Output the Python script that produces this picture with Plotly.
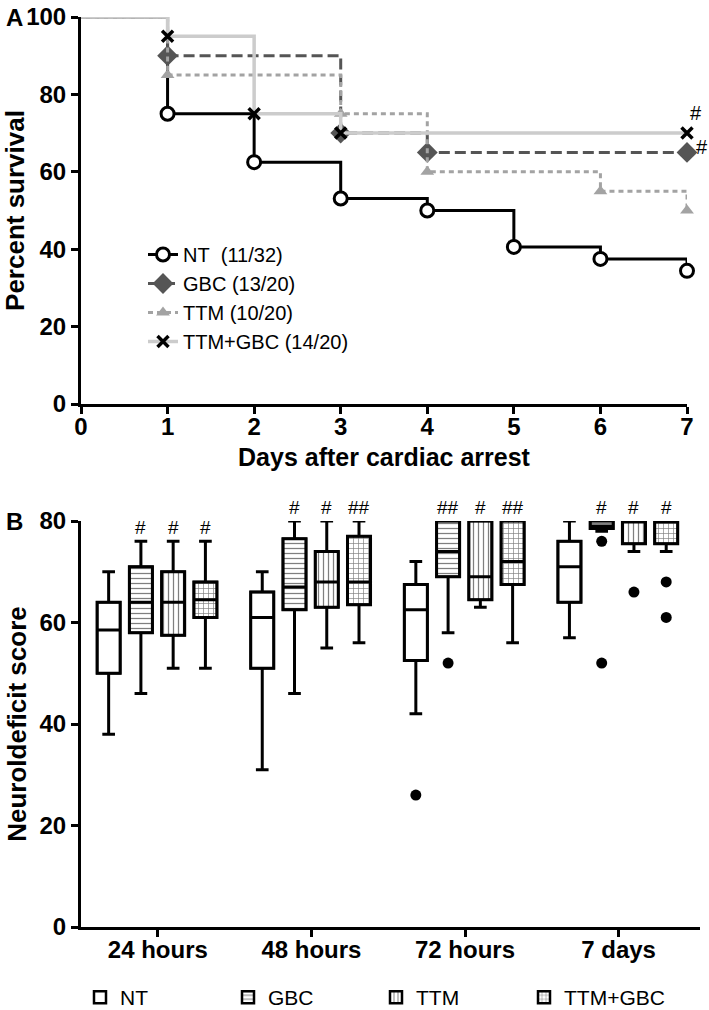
import plotly.graph_objects as go

# ---- Panel A: Kaplan-Meier survival ----
days = [0, 1, 2, 3, 4, 5, 6, 7]
surv_nt = [100, 75, 62.5, 53.1, 50, 40.6, 37.5, 34.4]
surv_gbc = [100, 90, 90, 70, 65, 65, 65, 65]
surv_ttm = [100, 85, 85, 75, 60, 60, 55, 50]
surv_combo = [100, 95, 75, 70, 70, 70, 70, 70]
km_names = ["NT\u00a0\u00a0(11/32)", "GBC (13/20)", "TTM (10/20)", "TTM+GBC (14/20)"]

# ---- Panel B: neurodeficit score box plots ----
time_labels = ["24 hours", "48 hours", "72 hours", "7 days"]
box_names = ["NT", "GBC", "TTM", "TTM+GBC"]

nt_low = [38, 31, 42, 57]
nt_q1 = [50, 51, 52.5, 64]
nt_med = [58.5, 61, 62.5, 71]
nt_q3 = [64, 66, 67.5, 76]
nt_high = [70, 70, 72, 80]

gbc_low = [46, 46, 58, 78]
gbc_q1 = [58, 62.5, 69, 78.5]
gbc_med = [64, 67, 74, 79]
gbc_q3 = [71, 76.5, 80, 80]
gbc_high = [76, 80, 80, 80]

ttm_low = [51, 55, 63, 74]
ttm_q1 = [57.5, 63, 64.5, 75.5]
ttm_med = [64, 68, 69, 80]
ttm_q3 = [70, 74, 80, 80]
ttm_high = [76, 80, 80, 80]

combo_low = [51, 56, 56, 74]
combo_q1 = [61, 63.5, 67.5, 75.5]
combo_med = [64.5, 68, 72, 80]
combo_q3 = [68, 77, 80, 80]
combo_high = [76, 80, 80, 80]

# outliers: (time index, value)
nt_out = [(2, 26)]
gbc_out = [(2, 52), (3, 76), (3, 52)]
ttm_out = [(3, 66)]
combo_out = [(3, 68), (3, 61)]

gbc_sig = ["#", "#", "##", "#"]
ttm_sig = ["#", "#", "#", "#"]
combo_sig = ["#", "##", "##", "#"]
nt_sig = ["", "", "", ""]

FONT = "Liberation Sans, Arial, sans-serif"
W, H = 709, 1010

fig = go.Figure()

km_styles = [
    dict(line=dict(color="black", width=3),
         marker=dict(symbol="circle", size=13, color="white",
                     line=dict(color="black", width=3))),
    dict(line=dict(color="#555555", width=3, dash="11px,5px"),
         marker=dict(symbol="diamond", size=16, color="#555555",
                     line=dict(color="#555555", width=0))),
    dict(line=dict(color="#a3a3a3", width=3, dash="5px,4px"),
         marker=dict(symbol="triangle-up", size=12, color="#a3a3a3",
                     line=dict(color="#a3a3a3", width=0))),
    dict(line=dict(color="#cccccc", width=3.5),
         marker=dict(symbol="x-thin", size=11, color="black",
                     line=dict(color="black", width=3.5))),
]

for name, surv, st in zip(km_names, [surv_nt, surv_gbc, surv_ttm, surv_combo], km_styles):
    # first step (day 0 -> day 1) without markers
    fig.add_trace(go.Scatter(
        x=days[:2], y=surv[:2], mode="lines", line=dict(shape="hv", **st["line"]),
        showlegend=False, xaxis="x", yaxis="y", cliponaxis=False, hoverinfo="skip",
    ))
    # event points (value changes) plus the final time point, joined as a step curve
    ev = [i for i in range(1, len(surv))
          if surv[i] != surv[i - 1] or i == len(surv) - 1]
    fig.add_trace(go.Scatter(
        x=[days[i] for i in ev], y=[surv[i] for i in ev], name=name,
        mode="lines+markers", line=dict(shape="hv", **st["line"]), marker=st["marker"],
        xaxis="x", yaxis="y", cliponaxis=False, legend="legend",
    ))

# significance marks next to the day-7 endpoints
fig.add_annotation(x=7, y=surv_combo[-1], xref="x", yref="y", text="#", showarrow=False,
                   xshift=9, yshift=20, font=dict(family=FONT, size=20, color="black"))
fig.add_annotation(x=7, y=surv_gbc[-1], xref="x", yref="y", text="#", showarrow=False,
                   xshift=15, yshift=5, font=dict(family=FONT, size=20, color="black"))

# ---- box plots ----
offsets = [-0.32, -0.11, 0.10, 0.31]
box_w = 0.15
patterns = ["", "-", "|", "+"]
series = [
    (nt_low, nt_q1, nt_med, nt_q3, nt_high, nt_out, nt_sig),
    (gbc_low, gbc_q1, gbc_med, gbc_q3, gbc_high, gbc_out, gbc_sig),
    (ttm_low, ttm_q1, ttm_med, ttm_q3, ttm_high, ttm_out, ttm_sig),
    (combo_low, combo_q1, combo_med, combo_q3, combo_high, combo_out, combo_sig),
]

for name, off, pat, s in zip(box_names, offsets, patterns, series):
    low, q1, med, q3, high, outs, sig = s
    xs = [i + off for i in range(len(time_labels))]
    # hatched fill of the interquartile range
    fig.add_trace(go.Bar(
        x=xs, y=[b - a for a, b in zip(q1, q3)], base=q1, width=box_w, name=name,
        marker=dict(color="white", line=dict(color="black", width=2.5),
                    pattern=dict(shape=pat, fgcolor="black", bgcolor="white", size=5, solidity=0.25)),
        xaxis="x2", yaxis="y2", legend="legend2",
    ))
    fig.add_trace(go.Box(
        x=xs, q1=q1, median=med, q3=q3, lowerfence=low, upperfence=high,
        width=box_w, whiskerwidth=0.55, fillcolor="rgba(0,0,0,0)",
        line=dict(color="black", width=3), showlegend=False,
        xaxis="x2", yaxis="y2", hoverinfo="skip",
    ))
    if outs:
        fig.add_trace(go.Scatter(
            x=[i + off for i, _ in outs], y=[v for _, v in outs], mode="markers",
            marker=dict(color="black", size=11), showlegend=False,
            xaxis="x2", yaxis="y2", cliponaxis=False,
        ))
    for i, lab in enumerate(sig):
        if lab:
            fig.add_annotation(x=xs[i], y=high[i], xref="x2", yref="y2", text=lab,
                               showarrow=False, yshift=14,
                               font=dict(family=FONT, size=19, color="black"))

tick_font = dict(family=FONT, size=24, color="black", weight="bold")
ytitle_font = dict(family=FONT, size=26, color="black", weight="bold")
axis_common = dict(showline=True, linecolor="black", linewidth=3, ticks="outside",
                   ticklen=7, tickwidth=3, tickcolor="black", showgrid=False,
                   zeroline=False, tickfont=tick_font, automargin=False,
                   ticklabeloverflow="allow")

fig.update_layout(
    width=W, height=H,
    margin=dict(l=0, r=0, t=0, b=0, autoexpand=False),
    plot_bgcolor="white", paper_bgcolor="white",
    barmode="overlay", boxmode="overlay",
    font=dict(family=FONT, color="black"),
    xaxis=dict(domain=[81 / W, 687 / W], range=[0, 7], dtick=1, anchor="y",
               ticklabelstandoff=-8,
               title=dict(text="Days after cardiac arrest",
                          font=dict(family=FONT, size=25, color="black", weight="bold"),
                          standoff=10),
               **axis_common),
    yaxis=dict(domain=[1 - 404 / H, 1 - 17 / H], range=[0, 100], dtick=20, anchor="x",
               title=dict(text="Percent survival", font=ytitle_font, standoff=6),
               **axis_common),
    xaxis2=dict(domain=[81 / W, 700 / W], range=[-0.5, 3.53], anchor="y2",
                ticklabelstandoff=-8,
                tickvals=list(range(len(time_labels))), ticktext=time_labels,
                **axis_common),
    yaxis2=dict(domain=[1 - 927 / H, 1 - 521 / H], range=[0, 80], dtick=20, anchor="x2",
                title=dict(text="Neuroldeficit score", font=ytitle_font, standoff=6),
                **axis_common),
    legend=dict(x=143 / W, y=1 - 235 / H, xanchor="left", yanchor="top",
                bgcolor="rgba(0,0,0,0)", font=dict(family=FONT, size=20, color="black"),
                tracegroupgap=0, itemwidth=30),
    legend2=dict(orientation="h", x=80 / W, y=-0.008, xanchor="left", yanchor="bottom",
                 bgcolor="rgba(0,0,0,0)", font=dict(family=FONT, size=21, color="black"),
                 entrywidth=103, itemwidth=30),
    annotations=list(fig.layout.annotations) + [
        dict(text="<b>A</b>", x=4 / W, y=1 - 2 / H, xref="paper", yref="paper",
             xanchor="left", yanchor="top", showarrow=False,
             font=dict(family=FONT, size=24, color="black")),
        dict(text="<b>B</b>", x=4 / W, y=1 - 506 / H, xref="paper", yref="paper",
             xanchor="left", yanchor="top", showarrow=False,
             font=dict(family=FONT, size=24, color="black")),
    ],
)

fig.write_html("out.html", config={"displayModeBar": False},
               post_script="document.body.style.margin = '0';")
